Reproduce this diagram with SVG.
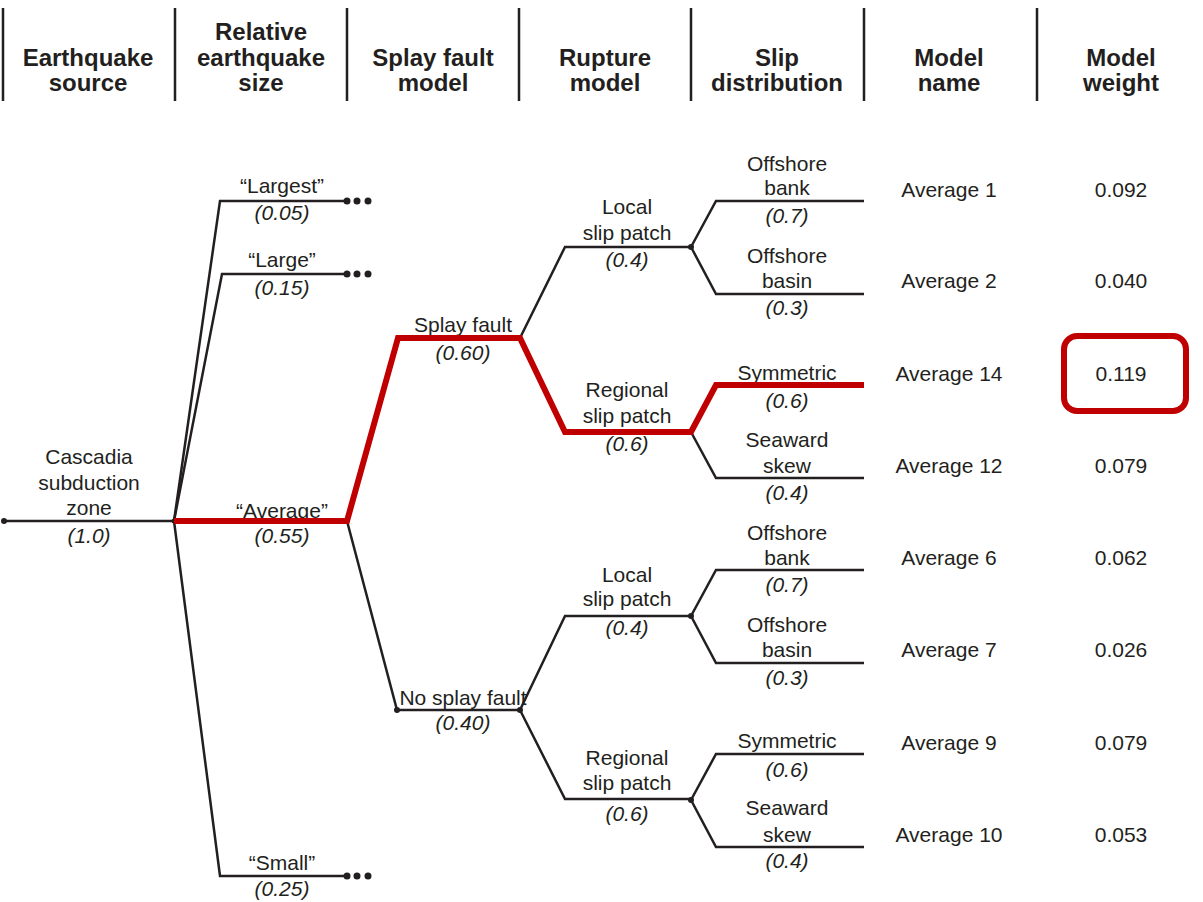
<svg xmlns="http://www.w3.org/2000/svg" width="1203" height="902" viewBox="0 0 1203 902">
<style>
text{font-family:"Liberation Sans",Arial,sans-serif;fill:#231f20;text-anchor:middle}
.h{font-size:24px;font-weight:bold}
.t{font-size:21px}
.p{font-size:21px;font-style:italic}
.ln{fill:none;stroke:#231f20;stroke-width:2.5;stroke-linejoin:miter}
.red{fill:none;stroke:#c00000;stroke-width:6;stroke-linejoin:miter}
.dot{fill:#231f20}
</style>
<rect width="1203" height="902" fill="#fff"/>
<g id="header">
<g class="ln"><path d="M3,8V101M175,8V101M347,8V101M519,8V101M691,8V101M864,8V101M1037,8V101"/></g>
<text class="h" x="88" y="66">Earthquake</text><text class="h" x="88" y="91">source</text>
<text class="h" x="261" y="40">Relative</text><text class="h" x="261" y="66">earthquake</text><text class="h" x="261" y="91">size</text>
<text class="h" x="433" y="66">Splay fault</text><text class="h" x="433" y="91">model</text>
<text class="h" x="605" y="66">Rupture</text><text class="h" x="605" y="91">model</text>
<text class="h" x="777" y="66">Slip</text><text class="h" x="777" y="91">distribution</text>
<text class="h" x="949" y="66">Model</text><text class="h" x="949" y="91">name</text>
<text class="h" x="1121" y="66">Model</text><text class="h" x="1121" y="91">weight</text>
</g>
<g id="connectors">
<path class="ln" d="M4,521H174"/>
<path class="ln" d="M174,521L220,201H347"/>
<path class="ln" d="M174,521L222,274H347"/>
<path class="ln" d="M174,521L220,876H347"/>
<path class="ln" d="M347,521L397,710H520"/>
<path class="ln" d="M520,338L565,247H691"/>
<path class="ln" d="M691,247L716,201H864"/>
<path class="ln" d="M691,247L716,294H864"/>
<path class="ln" d="M691,432L716,478H864"/>
<path class="ln" d="M520,710L565,616H691"/>
<path class="ln" d="M520,710L565,799H691"/>
<path class="ln" d="M691,616L716,570H864"/>
<path class="ln" d="M691,616L716,663H864"/>
<path class="ln" d="M691,800L716,754H864"/>
<path class="ln" d="M691,800L716,847H864"/>
<g class="dot">
<circle cx="4" cy="521" r="3"/><circle cx="174" cy="521" r="2.5"/><circle cx="347" cy="521" r="2.5"/>
<circle cx="397" cy="710" r="3"/><circle cx="520" cy="710" r="3"/><circle cx="520" cy="338" r="2.5"/><circle cx="398" cy="338" r="2.5"/>
<circle cx="691" cy="247" r="3"/><circle cx="691" cy="432" r="2.5"/><circle cx="691" cy="616" r="3"/><circle cx="691" cy="800" r="3"/>
<circle cx="347" cy="201" r="3.5"/><circle cx="357" cy="201" r="3.5"/><circle cx="368" cy="201" r="3.5"/>
<circle cx="347" cy="274" r="3.5"/><circle cx="357" cy="274" r="3.5"/><circle cx="368" cy="274" r="3.5"/>
<circle cx="347" cy="876" r="3.5"/><circle cx="357" cy="876" r="3.5"/><circle cx="368" cy="876" r="3.5"/>
</g>
</g>
<g id="root"><text class="t" x="89" y="464">Cascadia</text><text class="t" x="89" y="490">subduction</text><text class="t" x="89" y="515">zone</text><text class="p" x="89" y="543">(1.0)</text></g>
<g id="largest"><text class="t" x="282" y="193">“Largest”</text><text class="p" x="282" y="220">(0.05)</text></g>
<g id="large"><text class="t" x="282" y="267">“Large”</text><text class="p" x="282" y="295">(0.15)</text></g>
<g id="average"><text class="t" x="282" y="518">“Average”</text><text class="p" x="282" y="543">(0.55)</text></g>
<g id="small"><text class="t" x="282" y="870">“Small”</text><text class="p" x="282" y="896">(0.25)</text></g>
<g id="splay"><text class="t" x="463" y="332">Splay fault</text><text class="p" x="463" y="360">(0.60)</text></g>
<g id="nosplay"><text class="t" x="463" y="705">No splay fault</text><text class="p" x="463" y="730">(0.40)</text></g>
<g id="local1"><text class="t" x="627" y="214">Local</text><text class="t" x="627" y="240">slip patch</text><text class="p" x="627" y="267">(0.4)</text></g>
<g id="regional1"><text class="t" x="627" y="397">Regional</text><text class="t" x="627" y="423">slip patch</text><text class="p" x="627" y="451">(0.6)</text></g>
<g id="local2"><text class="t" x="627" y="582">Local</text><text class="t" x="627" y="606">slip patch</text><text class="p" x="627" y="635">(0.4)</text></g>
<g id="regional2"><text class="t" x="627" y="765">Regional</text><text class="t" x="627" y="790">slip patch</text><text class="p" x="627" y="821">(0.6)</text></g>
<g id="bank1"><text class="t" x="787" y="171">Offshore</text><text class="t" x="787" y="195">bank</text><text class="p" x="787" y="223">(0.7)</text><text class="t" x="949" y="197">Average 1</text><text class="t" x="1121" y="197">0.092</text></g>
<g id="basin1"><text class="t" x="787" y="263">Offshore</text><text class="t" x="787" y="288">basin</text><text class="p" x="787" y="315">(0.3)</text><text class="t" x="949" y="288">Average 2</text><text class="t" x="1121" y="288">0.040</text></g>
<g id="sym1"><text class="t" x="787" y="380">Symmetric</text><text class="p" x="787" y="408">(0.6)</text><text class="t" x="949" y="381">Average 14</text><text class="t" x="1121" y="381">0.119</text></g>
<g id="skew1"><text class="t" x="787" y="447">Seaward</text><text class="t" x="787" y="473">skew</text><text class="p" x="787" y="500">(0.4)</text><text class="t" x="949" y="473">Average 12</text><text class="t" x="1121" y="473">0.079</text></g>
<g id="bank2"><text class="t" x="787" y="540">Offshore</text><text class="t" x="787" y="565">bank</text><text class="p" x="787" y="592">(0.7)</text><text class="t" x="949" y="565">Average 6</text><text class="t" x="1121" y="565">0.062</text></g>
<g id="basin2"><text class="t" x="787" y="632">Offshore</text><text class="t" x="787" y="657">basin</text><text class="p" x="787" y="685">(0.3)</text><text class="t" x="949" y="657">Average 7</text><text class="t" x="1121" y="657">0.026</text></g>
<g id="sym2"><text class="t" x="787" y="748">Symmetric</text><text class="p" x="787" y="777">(0.6)</text><text class="t" x="949" y="750">Average 9</text><text class="t" x="1121" y="750">0.079</text></g>
<g id="skew2"><text class="t" x="787" y="815">Seaward</text><text class="t" x="787" y="842">skew</text><text class="p" x="787" y="868">(0.4)</text><text class="t" x="949" y="842">Average 10</text><text class="t" x="1121" y="842">0.053</text></g>
<g id="highlight">
<path class="red" d="M174,521H347L398,338H520L565,432H691L716,385H864"/>
<rect class="red" x="1064" y="336" width="122" height="75" rx="13"/>
</g>
</svg>
